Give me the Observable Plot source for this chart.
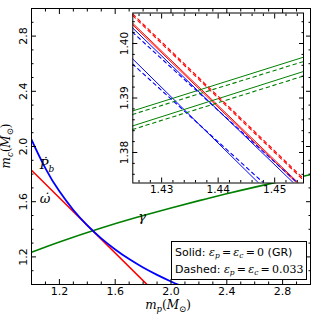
<!DOCTYPE html>
<html><head><meta charset="utf-8">
<script src="https://cdn.jsdelivr.net/npm/d3@7"></script>
<script src="https://cdn.jsdelivr.net/npm/@observablehq/plot@0.6"></script>
<style>
body{margin:0;background:#fff;}
#wrap{position:relative;width:316px;height:316px;font-family:"DejaVu Sans",sans-serif;overflow:hidden;}
#wrap svg{position:absolute;}
#legend{position:absolute;left:171px;top:241px;width:136px;height:39px;border:1px solid #000;background:#fff;font-size:11px;line-height:16.5px;padding:3px 0 0 3px;box-sizing:border-box;white-space:nowrap;color:#000;}
.m{font-family:"DejaVu Serif",serif;font-style:italic;}
.n{font-family:"DejaVu Serif",serif;}
sub{font-size:7.5px;vertical-align:-2px;line-height:0;}
</style></head><body><div id="wrap"></div>
<script>
// ---- main panel data ----
const pbdotMp = [0.98, 1.0, 1.1, 1.2, 1.3, 1.4, 1.5, 1.6, 1.7, 1.8, 1.9, 2.0, 2.05, 2.1];
const pbdotMc = [2.10, 2.05, 1.842, 1.675, 1.54, 1.428, 1.334, 1.254, 1.184, 1.123, 1.07, 1.022, 1.0, 0.98];
const gammaMp = [1.0, 1.2, 1.5, 1.75, 2.0, 2.25, 2.5, 2.75, 3.0];
const gammaMc = [1.233, 1.308, 1.409, 1.485, 1.555, 1.62, 1.682, 1.74, 1.796];
const omegaMp = [1.0, 1.83];
const omegaMc = [1.828, 0.998];

const xMajor = [1.2, 1.6, 2.0, 2.4, 2.8];
const xMinor = [1.1, 1.3, 1.4, 1.5, 1.7, 1.8, 1.9, 2.1, 2.2, 2.3, 2.5, 2.6, 2.7, 2.9];
const yMajor = [1.2, 1.6, 2.0, 2.4, 2.8];
const yMinor = [1.1, 1.3, 1.4, 1.5, 1.7, 1.8, 1.9, 2.1, 2.2, 2.3, 2.5, 2.6, 2.7, 2.9];

const curveLabels = ["Ṗ", "ω̇", "γ"];
const curveLabelMp = [1.115, 1.10, 1.796];
const curveLabelMc = [1.833, 1.587, 1.457];

// ---- inset data: line end points (m_p, m_c) ----
const insetName = ["ω solid 1", "ω solid 2", "ω dashed 1", "ω dashed 2",
  "Pb solid 1", "Pb dashed 1", "Pb solid 2", "Pb dashed 2",
  "γ solid 1", "γ dashed 1", "γ solid 2", "γ dashed 2"];
const insetKind = ["omega","omega","omega","omega","pbdot","pbdot","pbdot","pbdot","gamma","gamma","gamma","gamma"];
const insetDashed = [false,false,true,true,false,true,false,true,false,true,false,true];
const insetMp0 = [1.4249, 1.4249, 1.4249, 1.4249, 1.42485, 1.42485, 1.42485, 1.42485, 1.42485, 1.42485, 1.42485, 1.42485];
const insetMc0 = [1.4034, 1.4037, 1.4051, 1.4054, 1.40288, 1.40208, 1.39720, 1.39624, 1.38762, 1.38698, 1.38487, 1.38422];
const insetMp1 = [1.4551, 1.4551, 1.4551, 1.4551, 1.45334, 1.45405, 1.44715, 1.44803, 1.45511, 1.45511, 1.45511, 1.45511];
const insetMc1 = [1.3732, 1.3735, 1.3749, 1.3752, 1.37441, 1.37441, 1.37441, 1.37441, 1.39749, 1.39670, 1.39487, 1.39404];

const ixMajor = [1.43, 1.44, 1.45];
const ixMinor = [1.426, 1.428, 1.432, 1.434, 1.436, 1.438, 1.442, 1.444, 1.446, 1.448, 1.452, 1.454];
const iyMajor = [1.38, 1.39, 1.40];
const iyMinor = [1.376, 1.378, 1.382, 1.384, 1.386, 1.388, 1.392, 1.394, 1.396, 1.398, 1.402, 1.404];

const colors = {pbdot: "#0000ff", omega: "#ff0000", gamma: "#008000"};

// ---- tables ----
const pbdot = pbdotMp.map((v, i) => ({mp: v, mc: pbdotMc[i]}));
const gamma = gammaMp.map((v, i) => ({mp: v, mc: gammaMc[i]}));
const omega = omegaMp.map((v, i) => ({mp: v, mc: omegaMc[i]}));
const insetPts = [];
insetName.forEach((n, i) => {
  insetPts.push({name: n, kind: insetKind[i], dashed: insetDashed[i], mp: insetMp0[i], mc: insetMc0[i]});
  insetPts.push({name: n, kind: insetKind[i], dashed: insetDashed[i], mp: insetMp1[i], mc: insetMc1[i]});
});

function ticksX(anchor, major, minor, fmt, lab) {
  const out = [
    Plot.axisX({ticks: major, anchor, tickSize: -5, fill: "none", label: null}),
    Plot.axisX({ticks: minor, anchor, tickSize: -2.5, fill: "none", label: null})
  ];
  if (lab) out.push(Plot.axisX({ticks: major, anchor, tickSize: 0, tickPadding: 3, tickFormat: fmt, label: null}));
  return out;
}
function ticksY(anchor, major, minor, fmt, lab) {
  const out = [
    Plot.axisY({ticks: major, anchor, tickSize: -5, fill: "none", label: null}),
    Plot.axisY({ticks: minor, anchor, tickSize: -2.5, fill: "none", label: null})
  ];
  if (lab) out.push(Plot.axisY({ticks: major, anchor, tickSize: 0, tickPadding: 5, tickRotate: -90, tickFormat: fmt, label: null}));
  return out;
}

const wrap = document.getElementById("wrap");
const f1 = d3.format(".1f"), f2 = d3.format(".2f");

const main = Plot.plot({
  width: 316, height: 316,
  marginLeft: 31, marginRight: 6, marginTop: 8, marginBottom: 32,
  x: {domain: [1, 3]}, y: {domain: [1, 3]},
  style: {fontFamily: "DejaVu Sans", fontSize: "11px", background: "white", color: "black"},
  marks: [
    Plot.line(gamma, {x: "mp", y: "mc", stroke: colors.gamma, strokeWidth: 1.6, curve: "natural", clip: true}),
    Plot.line(omega, {x: "mp", y: "mc", stroke: colors.omega, strokeWidth: 1.6, clip: true}),
    Plot.line(pbdot, {x: "mp", y: "mc", stroke: colors.pbdot, strokeWidth: 1.8, curve: "natural", clip: true}),
    ...ticksX("bottom", xMajor, xMinor, f1, true),
    ...ticksX("top", xMajor, xMinor, f1, false),
    ...ticksY("left", yMajor, yMinor, f1, true),
    ...ticksY("right", yMajor, yMinor, f1, false),
    Plot.frame({stroke: "black", strokeWidth: 1})
  ]
});
main.style.left = "0px"; main.style.top = "0px";
wrap.appendChild(main);

// curve labels and axis titles
const X = main.scale("x"), Y = main.scale("y");
const svg = d3.select(main);
const g = svg.append("g").attr("font-family", "DejaVu Serif").attr("font-style", "italic").attr("font-size", 13);
curveLabels.forEach((t, i) => {
  const tx = g.append("text").attr("x", X.apply(curveLabelMp[i])).attr("y", Y.apply(curveLabelMc[i])).text(t);
  if (i === 0) tx.append("tspan").attr("font-size", 9).attr("dy", 3).text("b");
});
const xt = svg.append("text").attr("x", 168).attr("y", 309).attr("text-anchor", "middle")
  .attr("font-family", "DejaVu Serif").attr("font-size", 12);
xt.append("tspan").attr("font-style", "italic").text("m");
xt.append("tspan").attr("font-style", "italic").attr("font-size", 8.5).attr("dy", 3).text("p");
xt.append("tspan").attr("dy", -3).text("(");
xt.append("tspan").attr("font-style", "italic").text("M");
xt.append("tspan").attr("font-size", 8.5).attr("dy", 3).text("⊙");
xt.append("tspan").attr("dy", -3).text(")");
const yt = svg.append("text").attr("transform", "translate(10,146) rotate(-90)").attr("text-anchor", "middle")
  .attr("font-family", "DejaVu Serif").attr("font-size", 12);
yt.append("tspan").attr("font-style", "italic").text("m");
yt.append("tspan").attr("font-style", "italic").attr("font-size", 8.5).attr("dy", 3).text("c");
yt.append("tspan").attr("dy", -3).text("(");
yt.append("tspan").attr("font-style", "italic").text("M");
yt.append("tspan").attr("font-size", 8.5).attr("dy", 3).text("⊙");
yt.append("tspan").attr("dy", -3).text(")");

// ---- inset ----
const inset = Plot.plot({
  width: 216, height: 200,
  marginLeft: 32.3, marginRight: 13, marginTop: 12.5, marginBottom: 17.5,
  x: {domain: [1.4249, 1.4551]}, y: {domain: [1.3744, 1.4056]},
  style: {fontFamily: "DejaVu Sans", fontSize: "10.5px", background: "transparent", color: "black"},
  marks: [
    Plot.frame({fill: "white", stroke: "none"}),
    Plot.line(insetPts.filter(d => !d.dashed), {x: "mp", y: "mc", z: "name", stroke: d => colors[d.kind], strokeWidth: 1, clip: true}),
    Plot.line(insetPts.filter(d => d.dashed), {x: "mp", y: "mc", z: "name", stroke: d => colors[d.kind], strokeWidth: 1.1, strokeDasharray: "3.5,3.5", clip: true}),
    ...ticksX("bottom", ixMajor, ixMinor, f2, true),
    ...ticksX("top", ixMajor, ixMinor, f2, false),
    ...ticksY("left", iyMajor, iyMinor, f2, true),
    ...ticksY("right", iyMajor, iyMinor, f2, false),
    Plot.frame({stroke: "black", strokeWidth: 1})
  ]
});
inset.style.left = "100px"; inset.style.top = "0px";
wrap.appendChild(inset);

// ---- legend ----
const lg = document.createElement("div");
lg.id = "legend";
const eq = '<span class="n">\u2009=\u2009</span>';
lg.innerHTML = 'Solid: <span class="m">ε<sub>p</sub></span>' + eq + '<span class="m">ε<sub>c</sub></span>' + eq + '<span class="n">0</span> (GR)<br>' +
  'Dashed: <span class="m">ε<sub>p</sub></span>' + eq + '<span class="m">ε<sub>c</sub></span>' + eq + '<span class="n">0.033</span>';
wrap.appendChild(lg);
</script>
</body></html>
